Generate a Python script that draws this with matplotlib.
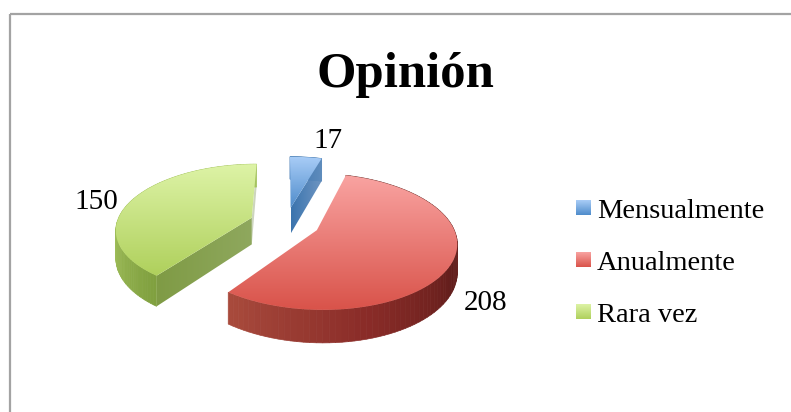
import numpy as np
import matplotlib
matplotlib.use('Agg')
import matplotlib.pyplot as plt
from matplotlib.colors import LinearSegmentedColormap
from matplotlib.lines import Line2D
from matplotlib.patches import Polygon

title = 'Opinión'
categories = ['Mensualmente', 'Anualmente', 'Rara vez']
values = [17, 208, 150]
explode = [0.25, 0.25, 0.27]

# top surface gradient (back to front) and outer wall colours (along the arc)
top_colors = [('#A9CDF7', '#4F8CCB'), ('#F9A3A1', '#D9534A'), ('#DDF3A6', '#AFD05C')]
side_colors = [('#5F8CBC', '#3B74AE'),
               ('#A84A3C', '#8A2C28', '#621D1B', '#6E2F2A', '#6E2F2A'),
               ('#A5C45F', '#A5C45F', '#A5C45F', '#80A03F')]
# cut faces: colours left to right for the theta1 and theta2 edges of each slice
cut_colors = [(('#3B74AE', '#7096C2'), None),
              (None, None),
              (('#CDD5BE', '#CDD5BE'), ('#7F9B45', '#8FA85E'))]
label_pos = [(328, 141), (486, 303), (96, 202)]
legend_y = [209, 261, 313]

# camera for the tilted pie
cx, cy = 286, 223
scale_x, scale_y = 135, 64
persp = 0.164
depth = 27
font = 'Liberation Serif'


def project(x, y, drop=0.0):
    w = 1 + persp * y
    return np.column_stack([cx + scale_x * x / w, cy - scale_y * y / w + drop / w])


def gradient(ax, cmap_colors, extent, clip=None, horizontal=False, zorder=1):
    cmap = LinearSegmentedColormap.from_list('g', cmap_colors)
    ramp = np.linspace(0, 1, 128)
    ramp = ramp.reshape(1, -1) if horizontal else ramp.reshape(-1, 1)
    im = ax.imshow(ramp, cmap=cmap, extent=extent, origin='upper', aspect='auto',
                   interpolation='bilinear', zorder=zorder)
    if clip is not None:
        patch = Polygon(clip, closed=True, transform=ax.transData)
        im.set_clip_path(patch)
    return im


fig = plt.figure(figsize=(7.91, 4.12), dpi=100)

# the pie layout itself comes from a hidden axes
hidden = fig.add_axes([0, 0, 0.01, 0.01])
wedges, _ = hidden.pie(values, explode=explode, startangle=90, counterclock=False)
hidden.set_visible(False)

ax = fig.add_axes([0, 0, 1, 1])
ax.axis('off')

z = 2
for i, w in enumerate(wedges):
    x0, y0 = w.center
    t = np.radians(np.linspace(w.theta1, w.theta2, 90))
    arc_x = x0 + w.r * np.cos(t)
    arc_y = y0 + w.r * np.sin(t)

    # flat cut faces, the top surface hides them where they face away
    for idx, cols in zip((0, -1), cut_colors[i]):
        if cols is None:
            continue
        ex, ey = arc_x[idx], arc_y[idx]
        a = project(np.array([x0, ex]), np.array([y0, ey]))
        b = project(np.array([ex, x0]), np.array([ey, y0]), depth)
        face = np.vstack([a, b])
        gradient(ax, cols, (face[:, 0].min(), face[:, 0].max(), face[:, 1].max(), face[:, 1].min()),
                 clip=face, horizontal=True, zorder=z)
        z += 1

    # outer wall, built from narrow facets
    top_edge = project(arc_x, arc_y)
    low_edge = project(arc_x, arc_y, depth)
    cmap = LinearSegmentedColormap.from_list('s', side_colors[i])
    for k in range(len(t) - 1):
        quad = np.vstack([top_edge[k:k + 2], low_edge[k:k + 2][::-1]])
        c = cmap(k / (len(t) - 2))
        ax.add_patch(Polygon(quad, closed=True, facecolor=c, edgecolor=c, lw=0.5, zorder=z))
    z += 1

    # top surface
    outline = np.vstack([project(np.array([x0]), np.array([y0])), top_edge])
    gradient(ax, top_colors[i],
             (outline[:, 0].min(), outline[:, 0].max(), outline[:, 1].max(), outline[:, 1].min()),
             clip=outline, zorder=z)
    z += 1

# data labels
for v, (lx, ly) in zip(values, label_pos):
    ax.text(lx, ly, str(v), ha='center', va='center', fontsize=21, family=font, color='black', zorder=z)

# legend
for name, ly, cols in zip(categories, legend_y, top_colors):
    gradient(ax, cols, (576, 591, ly + 6, ly - 9), zorder=z)
    ax.text(597, ly + 2, name, ha='left', va='center', fontsize=20.5, family=font, color='black', zorder=z)

ax.text(405, 75, title, ha='center', va='center', fontsize=36.5, fontweight='bold', family=font, color='black', zorder=z)

ax.set_xlim(0, 791)
ax.set_ylim(412, 0)

# chart frame, only top and left are in view
frame = dict(color='#A3A3A3', lw=1.6, transform=ax.transData, solid_capstyle='butt')
ax.add_line(Line2D([9.5, 791], [14, 14], **frame))
ax.add_line(Line2D([10, 10], [14, 412], **frame))

fig.savefig('out.png', dpi=100)
